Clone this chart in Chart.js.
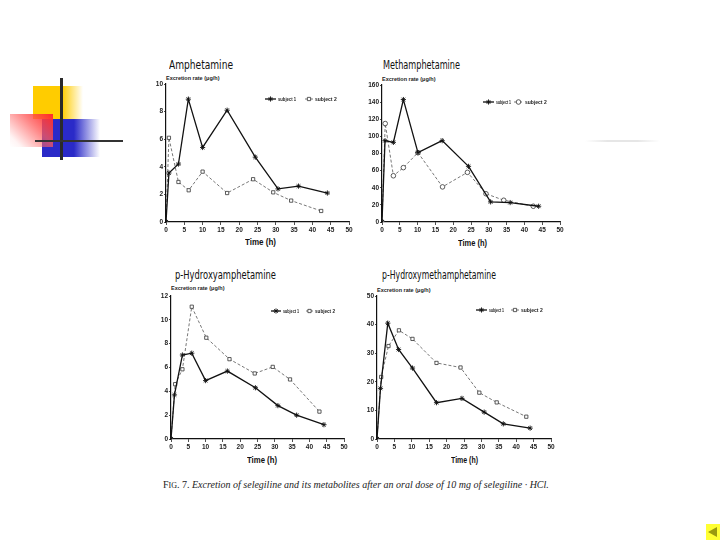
<!DOCTYPE html>
<html>
<head>
<meta charset="utf-8">
<script src="https://cdn.jsdelivr.net/npm/chart.js@4.4.1/dist/chart.umd.min.js"></script>
<style>
  html, body { margin: 0; padding: 0; background: #fff; }
  #page { position: relative; width: 720px; height: 540px; overflow: hidden; background: #fff; }
  .abs { position: absolute; }
  canvas { position: absolute; }
  .ttl { position: absolute; font-family: "Liberation Sans Narrow", "DejaVu Sans Condensed", "Liberation Sans", sans-serif; font-size: 12px; line-height: 12px; color: #111; white-space: nowrap; transform-origin: 0 50%; }
  .ylab { position: absolute; font-family: "Liberation Sans Narrow", "Liberation Sans", sans-serif; font-weight: bold; font-size: 5.5px; line-height: 6px; color: #222; white-space: nowrap; }
  .xlab { position: absolute; font-family: "Liberation Sans Narrow", "Liberation Sans", sans-serif; font-weight: bold; font-size: 9.5px; line-height: 10px; color: #111; white-space: nowrap; transform-origin: 0 50%; }
  #caption { position: absolute; left: 163px; top: 479px; font-family: "Liberation Serif", "DejaVu Serif", serif; font-size: 10px; line-height: 12px; color: #222; white-space: nowrap; }
  #caption i { font-style: italic; }
</style>
</head>
<body>
<div id="page">
  <!-- slide decoration -->
  <div class="abs" style="left:33px;top:86px;width:50px;height:33px;background:linear-gradient(to right,#ffcc00 0%,#ffcc00 58%,rgba(255,215,60,0) 100%);"></div>
  <div class="abs" style="left:42px;top:119px;width:58px;height:38px;background:linear-gradient(to right,#2a2ac8 0%,#2a2ac8 55%,rgba(60,60,220,0) 100%);"></div>
  <div class="abs" style="left:10px;top:114px;width:43px;height:33px;background:linear-gradient(225deg,#ff2a2a 0%,rgba(255,90,90,0.75) 40%,rgba(255,200,200,0.2) 85%,rgba(255,255,255,0) 100%);"></div>
  <div class="abs" style="left:60px;top:78px;width:3px;height:82px;background:#2a2a2a;"></div>
  <div class="abs" style="left:35px;top:140px;width:88px;height:2px;background:#333;"></div>
  <div class="abs" style="left:585px;top:140px;width:75px;height:2px;background:linear-gradient(to right,rgba(220,220,220,0),#e6e6e6 30%,#e6e6e6 70%,rgba(220,220,220,0));"></div>
  <!-- nav button -->
  <div class="abs" style="left:706px;top:524px;width:14px;height:16px;background:#ffff33;"></div>
  <div class="abs" style="left:708px;top:527px;width:0;height:0;border-top:5px solid transparent;border-bottom:5px solid transparent;border-right:9px solid #9a9a10;"></div>

  <!-- titles -->
  <div class="ttl" data-w="64" style="left:169px;top:59px;">Amphetamine</div>
  <div class="ttl" data-w="77" style="left:383px;top:59px;">Methamphetamine</div>
  <div class="ttl" data-w="101" style="left:175px;top:269px;">p-Hydroxyamphetamine</div>
  <div class="ttl" data-w="114" style="left:382px;top:269px;">p-Hydroxymethamphetamine</div>

  <div class="ylab" style="left:166px;top:75px;">Excretion rate (μg/h)</div>
  <div class="ylab" style="left:382px;top:76px;">Excretion rate (μg/h)</div>
  <div class="ylab" style="left:171px;top:285px;">Excretion rate (μg/h)</div>
  <div class="ylab" style="left:377px;top:287px;">Excretion rate (μg/h)</div>

  <div class="xlab" data-w="31" style="left:245px;top:237px;">Time (h)</div>
  <div class="xlab" data-w="29" style="left:458px;top:238px;">Time (h)</div>
  <div class="xlab" data-w="30" style="left:247px;top:455px;">Time (h)</div>
  <div class="xlab" data-w="27" style="left:451px;top:455px;">Time (h)</div>

  <canvas id="c1"></canvas>
  <canvas id="c2"></canvas>
  <canvas id="c3"></canvas>
  <canvas id="c4"></canvas>

  <div id="caption">F<span style="font-size:8px">IG</span>. 7. <i>Excretion of selegiline and its metabolites after an oral dose of 10 mg of selegiline · HCl.</i></div>
</div>

<script>
// ---------------- DATA ----------------
const seriesNames = ["subject 1", "subject 2"];

// Amphetamine
const ampTime1 = [0, 0.8, 3.4, 6.1, 10, 16.7, 24.4, 30.6, 36.2, 44.1];
const ampSubj1 = [0, 3.55, 4.2, 8.9, 5.4, 8.1, 4.7, 2.4, 2.6, 2.1];
const ampTime2 = [0, 0.8, 3.4, 6.2, 10, 16.7, 23.8, 29.3, 34.2, 42.4];
const ampSubj2 = [0, 6.1, 2.9, 2.3, 3.65, 2.1, 3.1, 2.15, 1.55, 0.8];

// Methamphetamine
const methTime1 = [0, 0.85, 3.2, 6.0, 10.1, 16.9, 24.3, 30.5, 36, 44];
const methSubj1 = [0, 95, 93, 143, 81, 95, 65, 23.5, 22.7, 18.4];
const methTime2 = [0, 0.9, 3.2, 6.0, 10.1, 17.0, 24.0, 29.2, 34.2, 42.5];
const methSubj2 = [0, 115, 54, 63.5, 81, 41, 58, 33, 25.4, 18.4];

// p-Hydroxyamphetamine
const ohaTime1 = [0, 1, 3.3, 6, 10, 16.3, 24.4, 30.9, 36.3, 44.2];
const ohaSubj1 = [0, 3.7, 7.05, 7.2, 4.9, 5.7, 4.3, 2.8, 2.0, 1.2];
const ohaTime2 = [0, 1.2, 3.3, 6, 10.2, 16.9, 24.2, 29.4, 34.4, 42.9];
const ohaSubj2 = [0, 4.6, 5.85, 11.1, 8.5, 6.7, 5.5, 6.05, 5.0, 2.3];

// p-Hydroxymethamphetamine
const ohmTime1 = [0, 1, 3.1, 6.2, 10.2, 17.1, 24.4, 30.8, 36.3, 44];
const ohmSubj1 = [0, 17.7, 40.5, 31.3, 24.8, 12.7, 14.2, 9.4, 5.3, 3.8];
const ohmTime2 = [0, 1.2, 3.3, 6.3, 10.2, 17.1, 24, 29.4, 34.4, 42.9];
const ohmSubj2 = [0, 21.7, 32.5, 38, 35, 26.6, 25, 16.2, 12.8, 7.8];

// axis ranges / ticks
const xMax = 50, xStep = 5;
const ampYMax = 10, ampYStep = 2;
const methYMax = 160, methYStep = 20;
const ohaYMax = 12, ohaYStep = 2;
const ohmYMax = 50, ohmYStep = 10;

// ---------------- RENDER ----------------
// fit condensed headings to their widths
document.querySelectorAll('[data-w]').forEach(el => {
  const w = el.getBoundingClientRect().width;
  const target = parseFloat(el.getAttribute('data-w'));
  if (w > 0) el.style.transform = 'scaleX(' + (target / w) + ')';
});

const pts = (xs, ys) => xs.map((x, i) => ({ x: x, y: ys[i] }));

const YW = 28, XH = 22, PT = 8, PR = 12;

const legendPlugin = {
  id: 'miniLegend',
  afterDraw(chart, args, opts) {
    if (!opts || !opts.items) return;
    const ctx = chart.ctx;
    ctx.save();
    opts.items.forEach((it, i) => {
      const ds = chart.data.datasets[i];
      const x0 = it.x0 - opts.ox, x1 = it.x1 - opts.ox, y = it.y - opts.oy;
      ctx.strokeStyle = ds.borderColor;
      ctx.lineWidth = ds.borderWidth;
      ctx.setLineDash(ds.borderDash || []);
      ctx.beginPath(); ctx.moveTo(x0, y); ctx.lineTo(x1, y); ctx.stroke();
      ctx.setLineDash([]);
      ctx.fillStyle = ds.pointBackgroundColor;
      ctx.strokeStyle = ds.pointBorderColor;
      ctx.lineWidth = ds.pointBorderWidth;
      Chart.helpers.drawPoint(ctx, { pointStyle: ds.pointStyle, radius: ds.pointRadius, rotation: 0, borderWidth: ds.pointBorderWidth }, (x0 + x1) / 2, y);
      ctx.fillStyle = '#222';
      ctx.font = 'bold 5px "Liberation Sans Narrow", "Liberation Sans", sans-serif';
      ctx.textBaseline = 'middle';
      ctx.fillText(seriesNames[i], x1 + 2, y + 0.5, it.tw);
    });
    ctx.restore();
  }
};

function makeChart(id, area, s1, s2, yMax, yStep, style2, legendPos) {
  const cv = document.getElementById(id);
  const left = area.L - YW, top = area.T - PT;
  const w = (area.R - area.L) + YW + PR, h = (area.B - area.T) + PT + XH;
  cv.style.left = left + 'px'; cv.style.top = top + 'px';
  cv.width = w; cv.height = h;
  cv.style.width = w + 'px'; cv.style.height = h + 'px';
  const tickFont = { family: '"Liberation Sans Narrow", "Liberation Sans", sans-serif', size: 6.5, weight: 'bold' };
  new Chart(cv, {
    type: 'scatter',
    data: {
      datasets: [
        { label: seriesNames[0], data: s1, showLine: true, borderColor: '#111', borderWidth: 1.3,
          pointStyle: 'star', pointRadius: 2.6, pointBorderWidth: 0.9, pointBackgroundColor: '#111', pointBorderColor: '#111', tension: 0 },
        { label: seriesNames[1], data: s2, showLine: true, borderColor: '#555', borderWidth: 0.8, borderDash: [3, 2],
          pointStyle: style2, pointRadius: 2.3, pointBorderWidth: 0.8, pointBackgroundColor: '#fff', pointBorderColor: '#333', tension: 0 }
      ]
    },
    options: {
      responsive: false, animation: false, devicePixelRatio: 1,
      layout: { padding: { top: PT, right: PR, left: 0, bottom: 0 } },
      plugins: { legend: { display: false }, tooltip: { enabled: false }, title: { display: false },
        miniLegend: { items: legendPos, ox: left, oy: top } },
      scales: {
        x: { type: 'linear', min: 0, max: xMax,
          ticks: { stepSize: xStep, font: tickFont, color: '#222', padding: 1, maxRotation: 0, autoSkip: false },
          grid: { display: true, drawOnChartArea: false, drawTicks: true, tickLength: 3, color: '#222', lineWidth: 0.8 },
          border: { display: true, color: '#111', width: 1.2 },
          afterFit: s => { s.height = XH; } },
        y: { type: 'linear', min: 0, max: yMax,
          ticks: { stepSize: yStep, font: tickFont, color: '#222', padding: 1, autoSkip: false },
          grid: { display: true, drawOnChartArea: false, drawTicks: true, tickLength: 2, color: '#222', lineWidth: 0.8 },
          border: { display: true, color: '#111', width: 1.2 },
          afterFit: s => { s.width = YW; } }
      }
    },
    plugins: [legendPlugin]
  });
}

makeChart('c1', { L: 166, T: 84, R: 349, B: 222 }, pts(ampTime1, ampSubj1), pts(ampTime2, ampSubj2), ampYMax, ampYStep, 'rect',
  [{ x0: 265, x1: 276, y: 99, tw: 18 }, { x0: 305, x1: 313, y: 99, tw: 22 }]);
makeChart('c2', { L: 382, T: 85, R: 560, B: 222 }, pts(methTime1, methSubj1), pts(methTime2, methSubj2), methYMax, methYStep, 'circle',
  [{ x0: 483, x1: 494, y: 102, tw: 15 }, { x0: 514, x1: 523, y: 102, tw: 22 }]);
makeChart('c3', { L: 171, T: 296, R: 344, B: 439 }, pts(ohaTime1, ohaSubj1), pts(ohaTime2, ohaSubj2), ohaYMax, ohaYStep, 'rect',
  [{ x0: 271, x1: 281, y: 311, tw: 16 }, { x0: 306, x1: 313, y: 311, tw: 20 }]);
makeChart('c4', { L: 377, T: 296, R: 551, B: 439 }, pts(ohmTime1, ohmSubj1), pts(ohmTime2, ohmSubj2), ohmYMax, ohmYStep, 'rect',
  [{ x0: 476, x1: 487, y: 310, tw: 15 }, { x0: 511, x1: 519, y: 310, tw: 24 }]);
</script>
</body>
</html>
